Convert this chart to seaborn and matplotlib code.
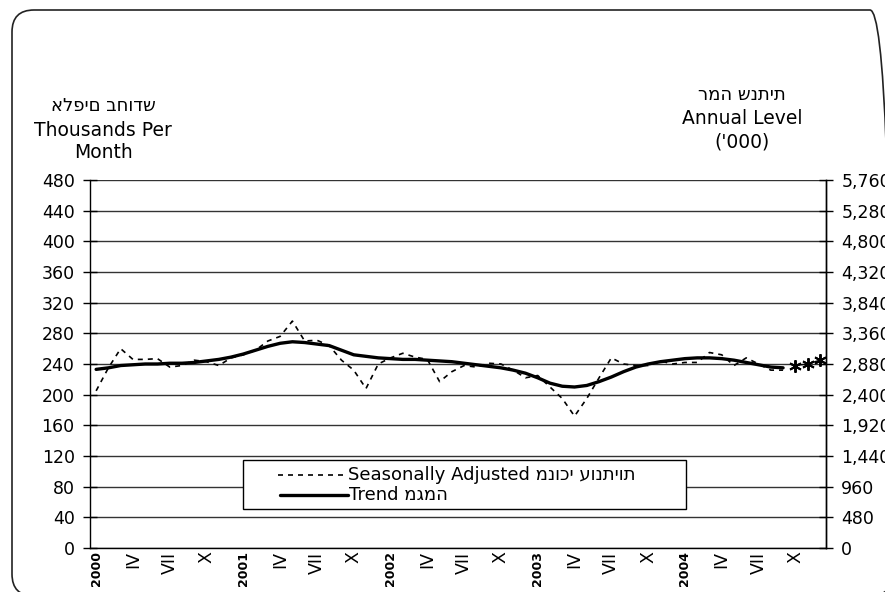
import numpy as np
import pandas as pd
import matplotlib
matplotlib.use("Agg")
import matplotlib.pyplot as plt
import seaborn as sns
from matplotlib.patches import FancyBboxPatch, Rectangle
from matplotlib.transforms import IdentityTransform
from matplotlib.lines import Line2D

# ---------------- data ----------------
years = ["2000", "2001", "2002", "2003", "2004"]
quarter_labels = ["IV", "VII", "X"]

seasonally_adjusted = [
    205, 235, 260, 246, 246, 247, 236, 238, 245, 243, 238, 248,   # 2000
    252, 258, 270, 276, 296, 270, 271, 264, 245, 232, 208, 240,   # 2001
    248, 254, 249, 246, 217, 230, 238, 236, 241, 240, 232, 222,   # 2002
    225, 210, 195, 172, 195, 222, 248, 240, 238, 238, 244, 240,   # 2003
    242, 242, 255, 252, 238, 248, 240, 232, 232,                  # 2004 Jan-Sep
]
trend = [
    233, 235, 238, 239, 240, 240, 241, 241, 242, 244, 246, 249,
    253, 258, 263, 267, 269, 268, 266, 264, 258, 252, 250, 248,
    247, 246, 246, 245, 244, 243, 241, 239, 237, 235, 232, 228,
    222, 215, 211, 210, 212, 217, 223, 230, 236, 240, 243, 245,
    247, 248, 248, 247, 245, 242, 239, 236, 235,
]
provisional = [238, 240, 245]          # Oct-Dec 2004

left_ticks = list(range(0, 481, 40))
right_ticks = [v * 12 for v in left_ticks]

n_months = 60
month_pos = np.arange(n_months) + 0.5

df = pd.DataFrame({
    "pos": month_pos[:len(seasonally_adjusted)],
    "sa": seasonally_adjusted,
    "trend": trend,
})
df_prov = pd.DataFrame({"pos": month_pos[57:60], "val": provisional})

# ---------------- style ----------------
sns.set_style("white")
plt.rcParams["font.family"] = ["DejaVu Sans"]
for k in ["text.color", "axes.labelcolor", "xtick.color", "ytick.color"]:
    plt.rcParams[k] = "black"

W, H = 885, 592
fig = plt.figure(figsize=(W / 100, H / 100), dpi=100)

# rounded chart border (right and bottom sides run off the image, as in the reference)
border = FancyBboxPatch((12, -4), 880, 586, boxstyle="round,pad=0,rounding_size=22",
                        transform=IdentityTransform(), facecolor="none",
                        edgecolor="#222222", linewidth=1.2, clip_on=False)
fig.add_artist(border)

ax_l, ax_r, ax_t, ax_b = 90, 826, 180, 548
ax = fig.add_axes([ax_l / W, 1 - ax_b / H, (ax_r - ax_l) / W, (ax_b - ax_t) / H])

sns.lineplot(data=df, x="pos", y="sa", ax=ax, color="black", linewidth=1.2,
             linestyle=(0, (3, 3)))
sns.lineplot(data=df, x="pos", y="trend", ax=ax, color="black", linewidth=2.4)
sns.lineplot(data=df_prov, x="pos", y="val", ax=ax, color="black", linewidth=1.0,
             marker=(6, 2, 0), markersize=9, markeredgewidth=1.4,
             markeredgecolor="black")

ax.set_xlim(0, n_months)
ax.set_ylim(0, 480)
ax.set_xlabel("")
ax.set_ylabel("")
ax.set_yticks(left_ticks)
ax.set_yticklabels([str(v) for v in left_ticks], fontsize=12.5)
ax.yaxis.grid(True, color="#333333", linewidth=1.0)
ax.xaxis.grid(False)
ax.set_axisbelow(True)

# x ticks: crossing marks every month, labels each quarter
ax.set_xticks(np.arange(0, n_months + 1))
ax.set_xticklabels([])
ax.tick_params(axis="x", which="major", direction="inout", length=9, width=1, color="black")
lab_pos, lab_txt = [], []
for i in range(0, n_months, 3):
    lab_pos.append(i + 0.5)
    q = (i % 12) // 3
    lab_txt.append(years[i // 12] if q == 0 else quarter_labels[q - 1])
ax.set_xticks(lab_pos, minor=True)
ax.set_xticklabels(lab_txt, minor=True, rotation=90, fontsize=12.5, va="top")
ax.tick_params(axis="x", which="minor", length=0, pad=2.5)
for t in ax.xaxis.get_minorticklabels():
    if t.get_text().isdigit():
        t.set_fontsize(9)
        t.set_fontweight("bold")

ax.tick_params(axis="y", direction="inout", length=10, width=1, color="black", pad=6)

ax.spines["top"].set_visible(False)
for s in ["left", "bottom", "right"]:
    ax.spines[s].set_color("black")
    ax.spines[s].set_linewidth(1.0)

ax2 = ax.twinx()
ax2.set_ylim(0, 5760)
ax2.set_yticks(right_ticks)
ax2.set_yticklabels([f"{v:,}" for v in right_ticks], fontsize=12.5)
ax2.tick_params(axis="y", direction="inout", length=10, width=1, color="black", pad=6)
for s in ["top", "left", "bottom"]:
    ax2.spines[s].set_visible(False)
ax2.spines["right"].set_color("black")
ax2.spines["right"].set_linewidth(1.0)
ax2.grid(False)

# ---------------- header texts ----------------
def ftext(px, py, s, size=13.5, **kw):
    fig.text(px / W, 1 - py / H, s, ha="center", va="center", fontsize=size, **kw)

ftext(103, 106, "אלפים בחודש", size=13)
ftext(103, 130, "Thousands Per")
ftext(103, 153, "Month")
ftext(742, 95, "רמה שנתית", size=13)
ftext(742, 118, "Annual Level")
ftext(742, 142, "('000)")

# ---------------- legend box ----------------
lx0, lx1, ly0, ly1 = 243, 686, 460, 509
fig.add_artist(Rectangle((lx0 / W, 1 - ly1 / H), (lx1 - lx0) / W, (ly1 - ly0) / H,
                         transform=fig.transFigure, facecolor="white",
                         edgecolor="black", linewidth=1.0, zorder=5))
r1, r2 = 475, 495
fig.add_artist(Line2D([278 / W, 347 / W], [1 - r1 / H, 1 - r1 / H], transform=fig.transFigure,
                      color="black", linewidth=1.2, linestyle=(0, (3, 3)), zorder=6))
fig.add_artist(Line2D([280 / W, 348 / W], [1 - r2 / H, 1 - r2 / H], transform=fig.transFigure,
                      color="black", linewidth=2.4, zorder=6))
fig.text(348 / W, 1 - r1 / H, "Seasonally Adjusted " + "מנוכי עונתיות",
         ha="left", va="center", fontsize=13, zorder=7)
fig.text(349 / W, 1 - r2 / H, "Trend " + "מגמה",
         ha="left", va="center", fontsize=13, zorder=7)

fig.savefig("out.png", dpi=100)
